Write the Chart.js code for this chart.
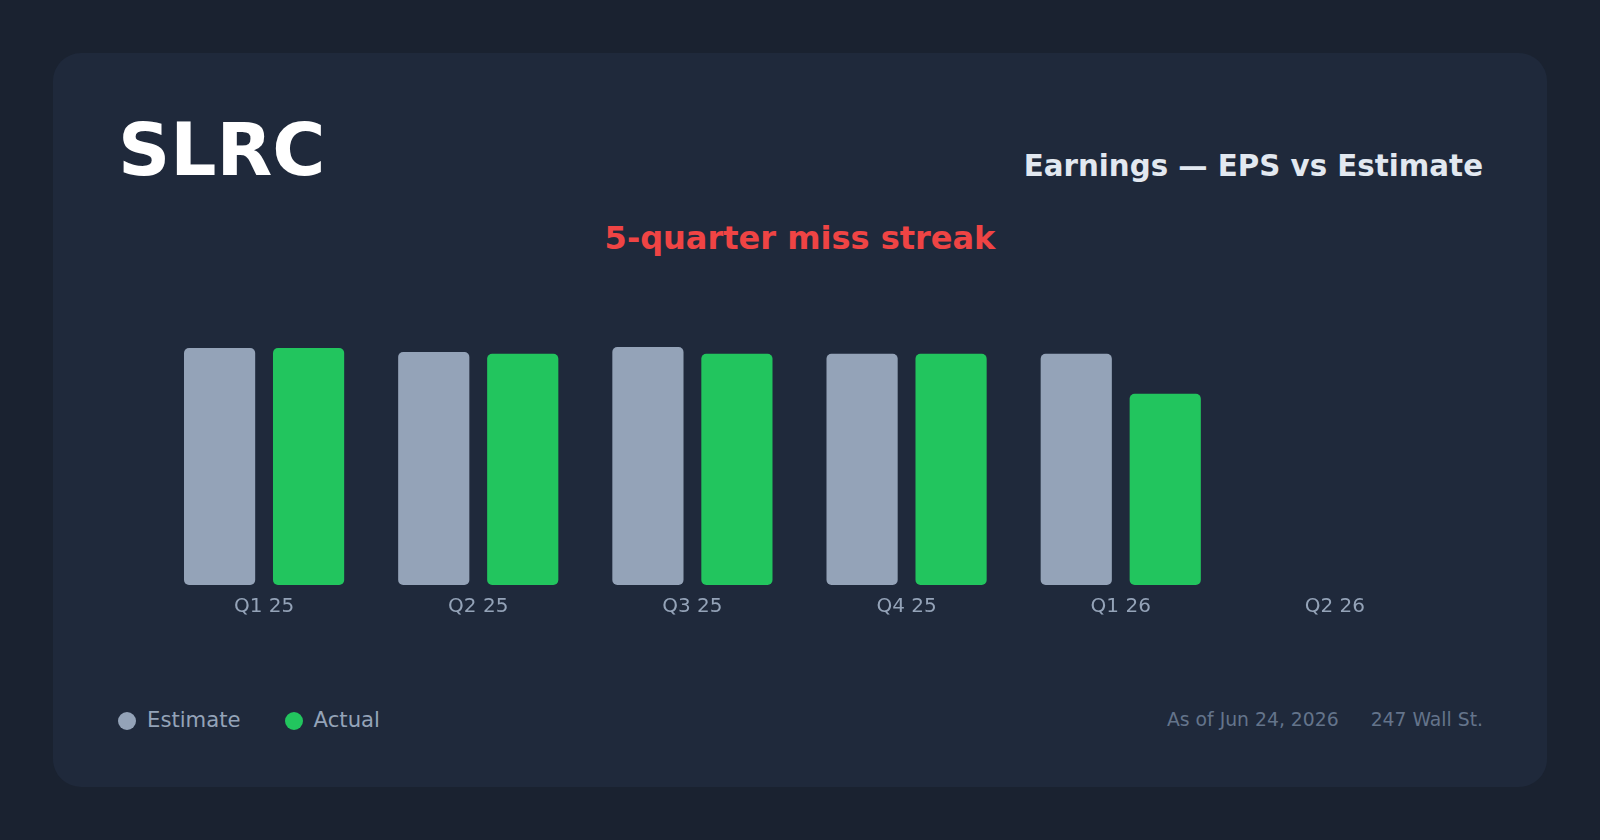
<!DOCTYPE html>
<html>
<head>
<meta charset="utf-8">
<script src="https://cdn.jsdelivr.net/npm/chart.js@4"></script>
<style>
  html, body { margin: 0; padding: 0; }
  body { width: 1600px; height: 840px; background: #1a2230; font-family: 'DejaVu Sans', sans-serif; position: relative; overflow: hidden; }
  .card { position: absolute; left: 53px; top: 53px; width: 1494px; height: 734px; background: #1f293b; border-radius: 28px; }
  .abs { position: absolute; line-height: 1; white-space: nowrap; }
  #ticker { left: 118px; top: 114px; font-size: 72.5px; font-weight: bold; color: #ffffff; }
  #subtitle { right: 117px; top: 152px; font-size: 29.3px; font-weight: bold; color: #e2e8f0; }
  #streak { left: 0; width: 1600px; text-align: center; top: 222px; font-size: 32px; font-weight: bold; color: #ef4444; }
  #chartWrap { position: absolute; left: 157px; top: 303px; width: 1285px; height: 326px; }
  #legend { left: 118px; top: 709px; font-size: 21.2px; color: #94a3b8; display: flex; gap: 44px; }
  #legend span.item { display: flex; align-items: center; }
  #legend i { display: inline-block; width: 18px; height: 18px; border-radius: 50%; margin-right: 11px; position: relative; top: 1px; }
  #footer { right: 117px; top: 710.5px; font-size: 18.8px; color: #64748b; display: flex; gap: 32px; }
</style>
</head>
<body>
<div class="card"></div>
<div class="abs" id="ticker">SLRC</div>
<div class="abs" id="subtitle">Earnings — EPS vs Estimate</div>
<div class="abs" id="streak">5-quarter miss streak</div>
<div id="chartWrap"><canvas id="chartEps"></canvas></div>
<div class="abs" id="legend"></div>
<div class="abs" id="footer"><span>As of Jun 24, 2026</span><span>247 Wall St.</span></div>

<script>
// quarters + EPS
const quarters = ['Q1 25', 'Q2 25', 'Q3 25', 'Q4 25', 'Q1 26', 'Q2 26'];
const estimateEps = [0.42, 0.413, 0.422, 0.41, 0.41, null];
const actualEps = [0.42, 0.41, 0.41, 0.41, 0.339, null];

const seriesColors = { Estimate: '#94a3b8', Actual: '#22c55e' };

(function(){
  const ctx = document.getElementById('chartEps');
  const chart = new Chart(ctx, {
    type: 'bar',
    data: {
      labels: quarters,
      datasets: [
        { label: 'Estimate', data: estimateEps, backgroundColor: seriesColors.Estimate },
        { label: 'Actual', data: actualEps, backgroundColor: seriesColors.Actual }
      ]
    },
    options: {
      responsive: true,
      maintainAspectRatio: false,
      animation: false,
      layout: { padding: 0 },
      datasets: {
        bar: { barPercentage: 0.8, categoryPercentage: 0.831, borderRadius: 5, borderSkipped: false }
      },
      plugins: { legend: { display: false }, tooltip: { enabled: false } },
      scales: {
        x: {
          grid: { display: false, drawTicks: false },
          border: { display: false },
          ticks: { color: '#94a3b8', padding: 10, font: { family: 'DejaVu Sans', size: 20 } }
        },
        y: { display: false, min: 0, max: 0.5 }
      }
    }
  });

  // html legend from the datasets
  const legendEl = document.getElementById('legend');
  chart.data.datasets.forEach(ds => {
    const item = document.createElement('span');
    item.className = 'item';
    item.innerHTML = '<i style="background:' + ds.backgroundColor + '"></i>' + ds.label;
    legendEl.appendChild(item);
  });
})();
</script>
</body>
</html>
